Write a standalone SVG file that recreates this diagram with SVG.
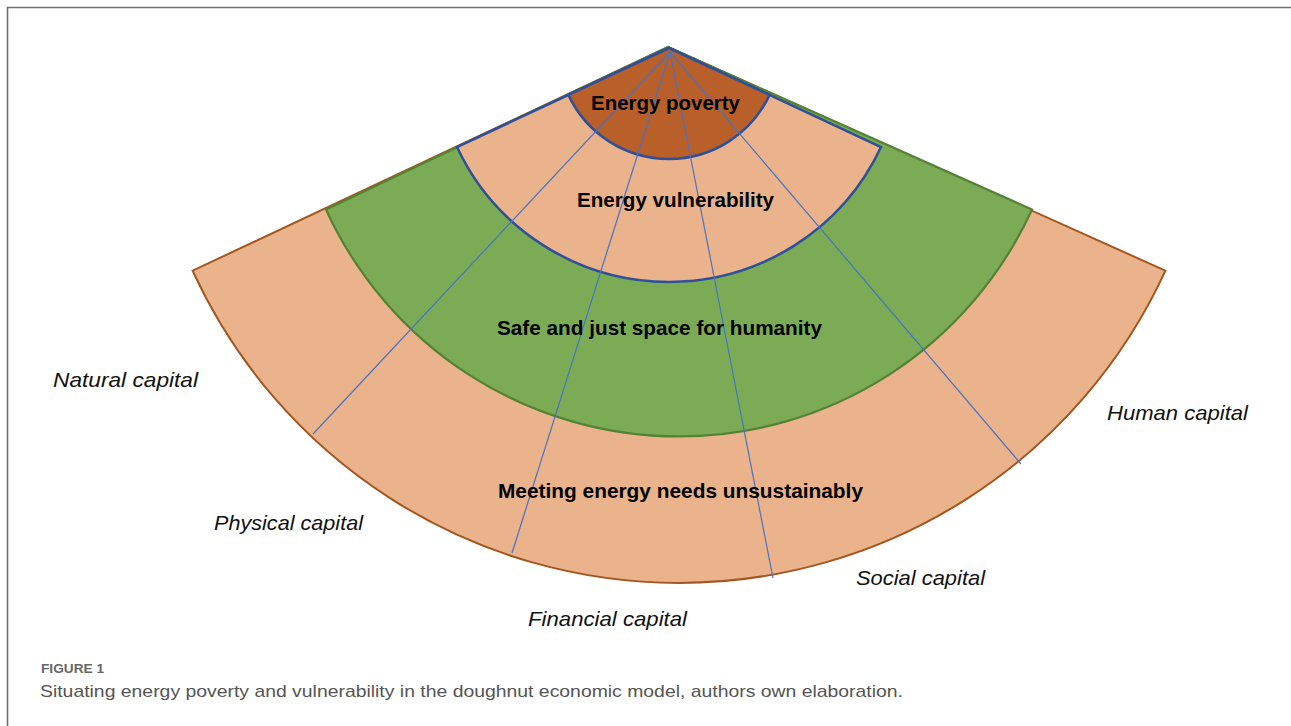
<svg xmlns="http://www.w3.org/2000/svg" width="1291" height="726" viewBox="0 0 1291 726">
<style>
.bold{font-family:"Liberation Sans",Arial,sans-serif;font-weight:bold;font-size:20.5px;fill:#000;text-anchor:start}
.ital{font-family:"Liberation Sans",Arial,sans-serif;font-style:italic;font-size:21px;fill:#111}
.cap1{font-family:"Liberation Sans",Arial,sans-serif;font-weight:bold;font-size:12.5px;fill:#666}
.cap2{font-family:"Liberation Sans",Arial,sans-serif;font-size:17px;fill:#555}
.radial{stroke:#4A72C4;stroke-width:1.2;fill:none}
</style>
<rect width="1291" height="726" fill="#fff"/>
<path d="M7.5,726 V7.5 H1291" fill="none" stroke="#707070" stroke-width="1.6"/>
<g id="outer-band">
<path d="M668,47 L1165.4,270.7 A535,535 0 0,1 192.6,270.7 Z" fill="#EBB38B" stroke="#A3561F" stroke-width="2"/>
</g>
<g id="safe-space">
<path d="M668,47 L1032,209.5 A388,388 0 0,1 326,209.5 Z" fill="#7BAC55" stroke="#548235" stroke-width="2.2"/>
</g>
<g id="vulnerability">
<path d="M669,48 L881,147 A234,234 0 0,1 457,147 Z" fill="#EBB38B" stroke="#2F4F9A" stroke-width="2.5"/>
</g>
<g id="poverty">
<path d="M669,48 L769.6,94.9 A111,111 0 0,1 568.4,94.9 Z" fill="#B85F2A" stroke="#2F4F9A" stroke-width="2.5"/>
</g>
<g id="connectors">
<line class="radial" x1="670" y1="52" x2="313" y2="434"/>
<line class="radial" x1="670" y1="52" x2="512" y2="553"/>
<line class="radial" x1="670" y1="52" x2="773" y2="578"/>
<line class="radial" x1="670" y1="52" x2="1021" y2="464"/>
</g>
<g id="band-labels">
<text class="bold" x="591" y="110" textLength="149" lengthAdjust="spacingAndGlyphs">Energy poverty</text>
<text class="bold" x="577" y="207" textLength="197" lengthAdjust="spacingAndGlyphs">Energy vulnerability</text>
<text class="bold" x="497" y="335" textLength="325" lengthAdjust="spacingAndGlyphs">Safe and just space for humanity</text>
<text class="bold" x="498" y="498" textLength="365" lengthAdjust="spacingAndGlyphs">Meeting energy needs unsustainably</text>
</g>
<g id="capital-labels">
<text class="ital" x="53" y="387" textLength="145" lengthAdjust="spacingAndGlyphs">Natural capital</text>
<text class="ital" x="214" y="530" textLength="149" lengthAdjust="spacingAndGlyphs">Physical capital</text>
<text class="ital" x="528" y="626" textLength="159" lengthAdjust="spacingAndGlyphs">Financial capital</text>
<text class="ital" x="856" y="585" textLength="129" lengthAdjust="spacingAndGlyphs">Social capital</text>
<text class="ital" x="1107" y="420" textLength="141" lengthAdjust="spacingAndGlyphs">Human capital</text>
</g>
<g id="caption">
<text class="cap1" x="41" y="673" textLength="63" lengthAdjust="spacingAndGlyphs">FIGURE 1</text>
<text class="cap2" x="40" y="697" textLength="863" lengthAdjust="spacingAndGlyphs">Situating energy poverty and vulnerability in the doughnut economic model, authors own elaboration.</text>
</g>
</svg>
